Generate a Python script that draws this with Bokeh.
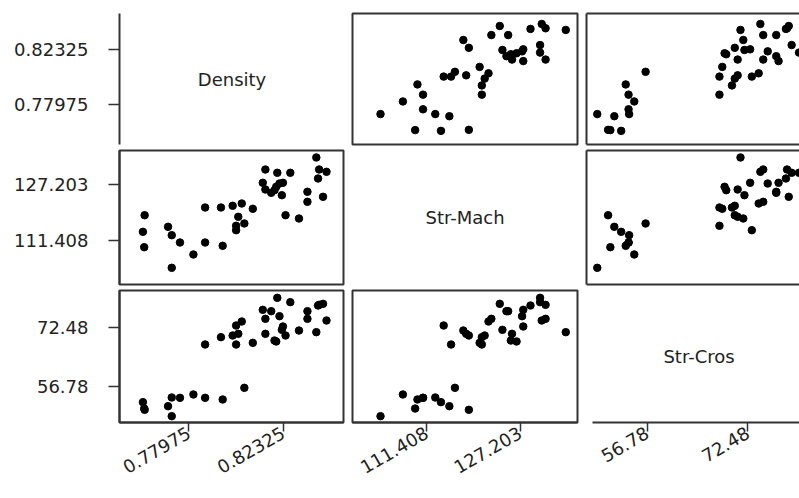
import math
from bokeh.plotting import figure
from bokeh.layouts import row, column
from bokeh.models import Range1d, LinearAxis, FixedTicker, PrintfTickFormatter, Label
from bokeh.embed import file_html
from bokeh.resources import INLINE

# ---------------- data ----------------
variables = ["Density", "Str-Mach", "Str-Cros"]

density = [0.8385, 0.8150, 0.8205, 0.8265, 0.8398, 0.8432, 0.8393, 0.8138, 0.8150, 0.8177,
           0.8200, 0.8215, 0.8231, 0.8192, 0.8226, 0.8344, 0.8416, 0.8344, 0.7593, 0.7872,
           0.7945, 0.7999, 0.8041, 0.8092, 0.8025, 0.8053, 0.8015, 0.8015, 0.8243, 0.8305,
           0.7585, 0.7701, 0.7718, 0.7756, 0.7872, 0.7953, 0.7591, 0.7818, 0.7718]
str_mach = [134.92, 131.51, 130.58, 130.58, 131.51, 130.86, 128.96, 127.74, 125.84, 124.90,
            126.61, 127.54, 127.74, 125.64, 124.22, 125.19, 123.77, 122.35, 118.55, 120.74,
            120.74, 121.22, 121.87, 120.37, 118.10, 116.20, 115.55, 114.30, 118.55, 117.62,
            113.84, 115.26, 112.88, 110.81, 110.81, 109.87, 109.48, 107.41, 103.63]
str_cros = [71.32, 74.87, 80.45, 79.30, 78.59, 74.42, 78.41, 77.26, 70.88, 76.90,
            68.84, 75.57, 72.83, 69.10, 71.94, 76.90, 78.85, 74.87, 50.67, 68.04,
            69.99, 70.43, 74.16, 68.48, 70.88, 56.52, 68.04, 73.09, 70.43, 71.76,
            52.71, 51.64, 53.95, 53.86, 53.86, 53.42, 51.02, 54.75, 48.98]

dens_ticks = [0.77975, 0.82325]
dens_tick_labels = ["0.77975", "0.82325"]
mach_ticks = [111.408, 127.203]
mach_tick_labels = ["111.408", "127.203"]
cros_ticks = [56.78, 72.48]
cros_tick_labels = ["56.78", "72.48"]

dens_range = (0.7477, 0.8515)
mach_range = (98.9, 136.9)
cros_range = (47.3, 82.4)

# ---------------- layout / style ----------------
series = [density, str_mach, str_cros]
ranges = [dens_range, mach_range, cros_range]
ticks = [dens_ticks, mach_ticks, cros_ticks]
tick_labels = [dens_tick_labels, mach_tick_labels, cros_tick_labels]
fmts = ["%.5f", "%.3f", "%.2f"]

COL_W = [348, 234, 217]
COL_L = [119, 4, 4]
COL_R = [5, 5, 0]
ROW_H = [147, 140, 209]
ROW_T = [13, 3, 3]
ROW_B = [3, 3, 74]
FULL_FRAME_W = 225
DIAG_AXIS_INSET = 6  # px

EDGE = "#333333"
TEXT = "#222222"
FONT = "DejaVu Sans"
FSIZE = "18px"


def x_range_for(j):
    lo, hi = ranges[j]
    fw = COL_W[j] - COL_L[j] - COL_R[j]
    if fw < FULL_FRAME_W:
        hi = lo + (hi - lo) * fw / FULL_FRAME_W
    return Range1d(lo, hi)


def tick_axis(j, side):
    ax = LinearAxis(
        ticker=FixedTicker(ticks=ticks[j]),
        formatter=PrintfTickFormatter(format=fmts[j]),
        major_label_overrides={t: s for t, s in zip(ticks[j], tick_labels[j])},
        axis_line_color=EDGE, axis_line_width=2,
        major_tick_line_color=EDGE, major_tick_line_width=1.5,
        major_tick_in=0, minor_tick_in=0, minor_tick_out=0,
        major_label_text_font=FONT, major_label_text_font_size=FSIZE,
        major_label_text_color=TEXT,
    )
    if side == "left":
        ax.major_tick_out = 11
        ax.major_label_standoff = 20
    else:
        ax.major_tick_out = 9
        ax.major_label_standoff = 0
        ax.major_label_orientation = math.pi / 6
    return ax


def edge_axis():
    return LinearAxis(
        ticker=FixedTicker(ticks=[]),
        axis_line_color=EDGE, axis_line_width=2,
        major_tick_in=0, major_tick_out=0, minor_tick_in=0, minor_tick_out=0,
        major_label_text_font_size="0px", major_label_standoff=0,
    )


rows = []
for i in range(3):
    figs = []
    for j in range(3):
        xr = x_range_for(j)
        p = figure(width=COL_W[j], height=ROW_H[i],
                   min_border_left=COL_L[j], min_border_right=COL_R[j],
                   min_border_top=ROW_T[i], min_border_bottom=ROW_B[i],
                   x_range=xr, y_range=Range1d(*ranges[i]),
                   x_axis_location=None, y_axis_location=None,
                   toolbar_location=None, output_backend="svg",
                   background_fill_color="white", border_fill_color="white")
        p.xgrid.visible = False
        p.ygrid.visible = False
        if i == j:
            p.outline_line_color = None
            lo, hi = ranges[j]
            ylo, yhi = ranges[i]
            p.add_layout(Label(x=(lo + hi) / 2, y=(ylo + yhi) / 2, text=variables[i],
                               text_align="center", text_baseline="middle",
                               text_font=FONT, text_font_size=FSIZE, text_color=TEXT))
        else:
            p.scatter(series[j], series[i], size=7.5, color="black")
            if j == 2:
                p.outline_line_color = None
                p.add_layout(edge_axis(), "left")
                p.add_layout(edge_axis(), "above")
                if i != 2:
                    p.add_layout(edge_axis(), "below")
            else:
                p.outline_line_color = EDGE
                p.outline_line_width = 2
        if j == 0:
            p.add_layout(tick_axis(i, "left"), "left")
        if i == 2:
            ax = tick_axis(j, "below")
            if i == j:
                lo, hi = ranges[j]
                ax.bounds = (lo + (hi - lo) * DIAG_AXIS_INSET / FULL_FRAME_W, xr.end)
            p.add_layout(ax, "below")
        figs.append(p)
    rows.append(row(*figs, spacing=0))

layout = column(*rows, spacing=0)
open("out.html", "w").write(file_html(layout, INLINE))
